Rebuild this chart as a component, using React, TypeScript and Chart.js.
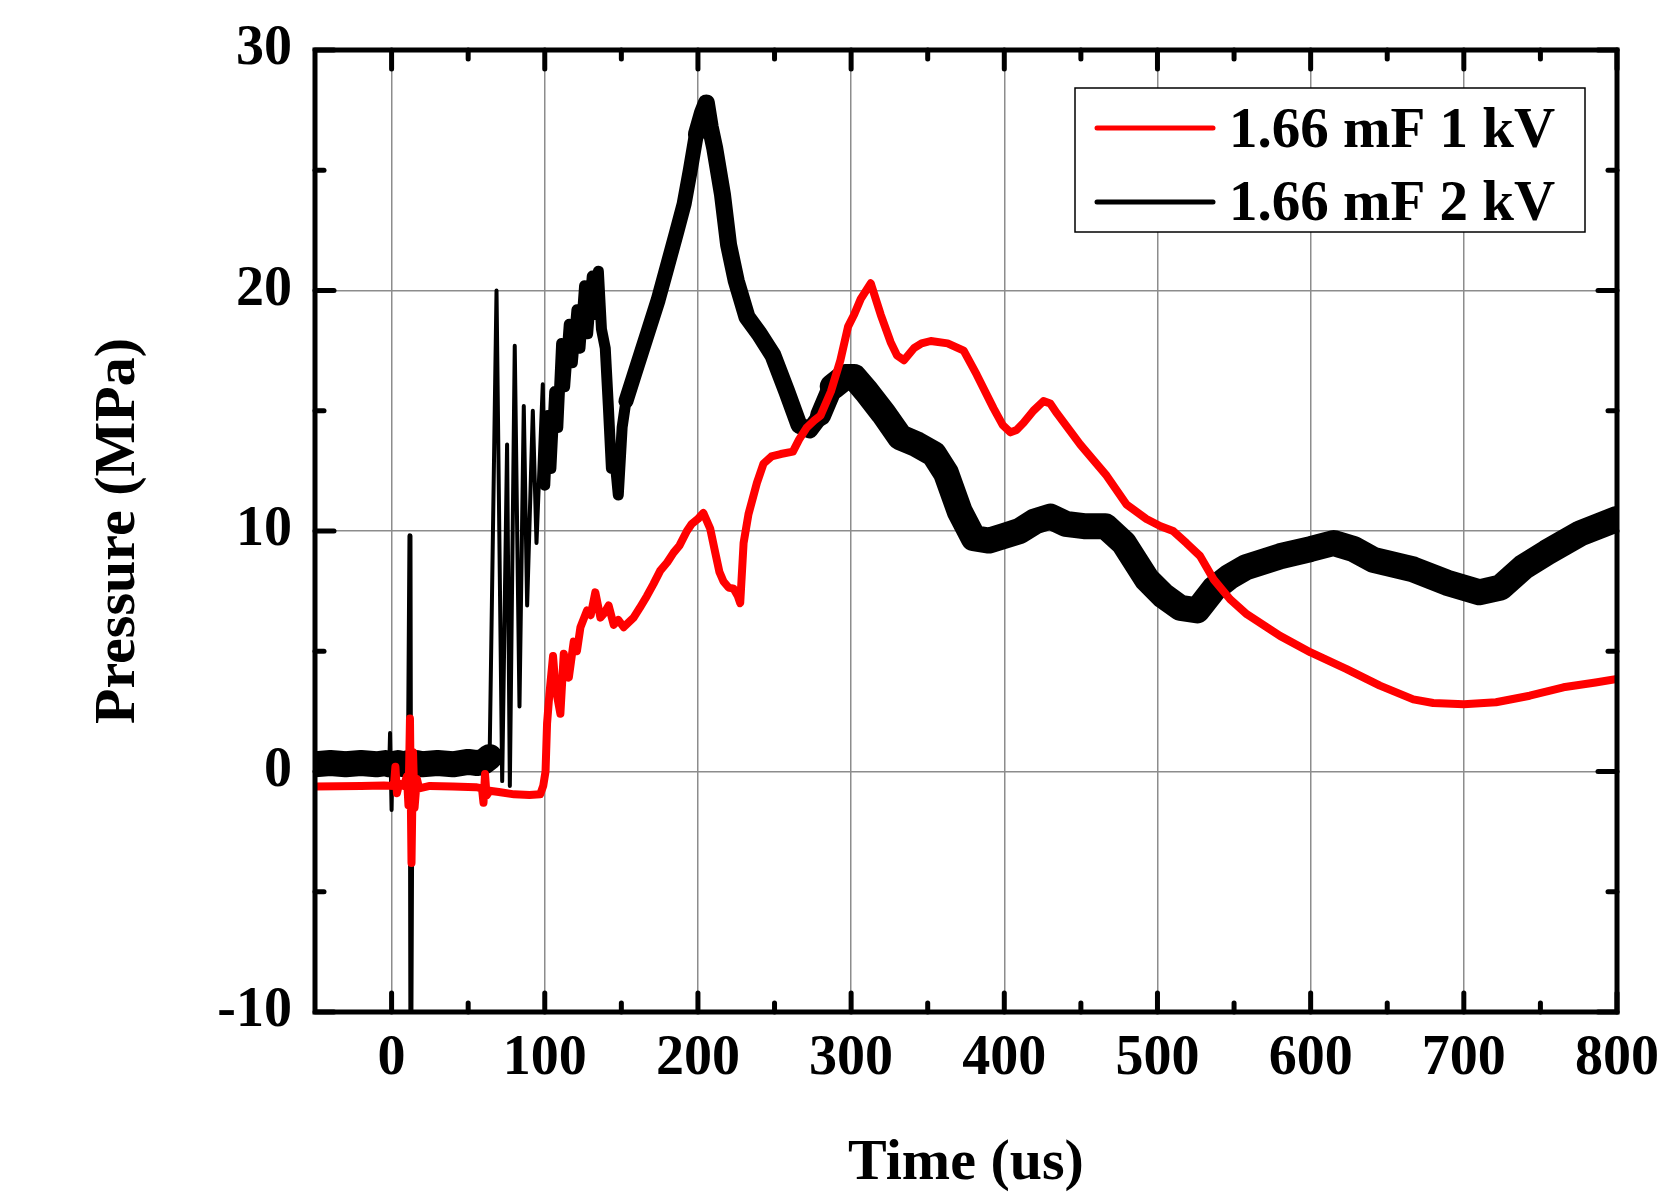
import React, { useEffect, useRef } from "react";
import { Chart, registerables } from "chart.js";

Chart.register(...registerables);

const FONT = "'Liberation Serif', 'Times New Roman', Times, serif";

const X_TICKS = [0, 100, 200, 300, 400, 500, 600, 700, 800];
const Y_TICKS = [-10, 0, 10, 20, 30];
const X_MIN = -50;
const X_MAX = 800;
const Y_MIN = -10;
const Y_MAX = 30;
const X_TITLE = "Time (us)";
const Y_TITLE = "Pressure (MPa)";
const SERIES_NAMES = ["1.66 mF 1 kV", "1.66 mF 2 kV"];
const SERIES_COLORS = ["#ff0000", "#000000"];

// 1.66 mF 1 kV  (time us, pressure MPa)
const SERIES_1KV: [number, number][] = [
  [-50, -0.62], [-20, -0.6], [-5, -0.58], [1.5, -0.6], [2.5, 0.2], [3.5, -0.9], [5, -0.5],
  [8, -0.6], [10, -0.2], [11, -1.4], [12, 2.2], [13, -3.8], [14, 0.8], [15, -1.5], [16.5, -0.3],
  [18, -0.7], [25, -0.6], [40, -0.62], [55, -0.65], [59, -0.7], [60, -1.3], [61, -0.1], [62, -1.0],
  [64, -0.8], [70, -0.85], [80, -0.95], [90, -0.98], [97, -0.95], [99, -0.6], [100.5, 0.0],
  [101.5, 2.0], [103, 3.2], [105.4, 4.8], [107, 3.5], [110.2, 2.4], [112.4, 4.9], [115.7, 3.9],
  [118.9, 5.4], [121, 5.0], [123.3, 6.0], [127.6, 6.7], [130, 6.5], [133, 7.45], [136.3, 6.4],
  [139, 6.6], [141.7, 6.9], [145, 6.1], [148, 6.3], [151.5, 6.0], [158, 6.4], [162, 6.8],
  [166.7, 7.3], [171, 7.8], [175.4, 8.35], [180, 8.7], [184.1, 9.1], [188, 9.4], [192.8, 10.0],
  [196, 10.3], [200, 10.5], [203.5, 10.75], [208, 10.1], [211.3, 9.1], [214, 8.3], [216.7, 7.9],
  [220, 7.65], [223.3, 7.6], [226, 7.3], [227.6, 7.0], [229.8, 9.5], [233, 10.7], [238.5, 12.0],
  [242.8, 12.8], [248, 13.1], [254, 13.2], [262, 13.3], [266, 13.8], [271, 14.3], [276, 14.6],
  [280, 14.8], [286.8, 15.8], [293, 17.1], [298, 18.5], [302, 19.0], [306.3, 19.65], [312.8, 20.3],
  [319.3, 19.0], [325.8, 17.85], [330, 17.3], [334.5, 17.1], [341, 17.6], [346, 17.8], [352, 17.9],
  [363, 17.8], [373.5, 17.5], [382, 16.5], [393, 15.1], [399, 14.4], [404, 14.1], [408, 14.2],
  [412.6, 14.5], [419, 15.0], [425.6, 15.4], [430, 15.3], [434.3, 14.9], [449.5, 13.6],
  [466.8, 12.3], [479.8, 11.1], [492.8, 10.5], [502, 10.2], [510.2, 10.0], [518.9, 9.5],
  [527.8, 8.96], [536.5, 8.0], [547.4, 7.16], [558.3, 6.54], [580, 5.64], [600, 4.95],
  [623.5, 4.26], [645.2, 3.57], [667, 3.0], [680, 2.85], [700, 2.8], [721, 2.88], [743, 3.15],
  [765, 3.5], [786, 3.7], [800, 3.85],
];

// 1.66 mF 2 kV  (time us, pressure MPa)
const SERIES_2KV: [number, number][] = [
  [-50, 0.3], [-40, 0.35], [-30, 0.3], [-20, 0.35], [-10, 0.3], [-4, 0.35], [-1.5, 0.3],
  [-1, 1.6], [0, -1.6], [0.5, 0.3], [4, 0.35], [8, 0.3], [11, 0.35], [12, 9.8], [12.6, -10.5],
  [13.3, 0.3], [16, 0.35], [20, 0.3], [30, 0.35], [40, 0.3], [50, 0.4], [56, 0.35], [60, 0.4],
  [64, 0.6], [68.5, 20.0], [72.2, -0.4], [75.4, 13.6], [77.2, -0.6], [80.4, 17.7], [83.5, 2.7],
  [86.3, 15.2], [88.5, 6.9], [92.2, 15.0], [94.6, 9.5], [98.7, 16.1], [100, 11.9],
  [102, 14.8], [104, 12.6], [106.5, 15.8], [108.5, 14.3], [111, 17.8], [113, 16.0], [116, 18.6],
  [118, 17.0], [121, 19.2], [123, 17.6], [126, 20.2], [128, 18.2], [131, 20.6], [133, 19.0],
  [135, 20.8], [137, 18.4], [139.5, 17.6], [141.5, 15.2], [143.5, 12.6], [145.5, 13.2],
  [148, 11.5], [150.5, 14.3], [153, 15.4], [158, 16.4], [163, 17.4], [168, 18.4], [174, 19.6],
  [180, 21.0], [186, 22.4], [191, 23.6], [195, 25.0], [199, 26.5], [203, 27.4], [205.5, 27.8],
  [208, 26.8], [211, 25.9], [216, 24.0], [220, 21.9], [225, 20.4], [232, 18.9], [240, 18.2],
  [249, 17.3], [258, 15.8], [266, 14.4], [273, 14.2], [280, 14.8], [288, 16.0], [296, 16.4],
  [302, 16.4], [310, 15.8], [321, 14.9], [332, 13.9], [343, 13.6], [354, 13.2], [362, 12.4],
  [371, 10.8], [380, 9.7], [390, 9.6], [400, 9.8], [410, 10.0], [420, 10.4], [430, 10.6],
  [440, 10.3], [452, 10.2], [466, 10.2], [478, 9.5], [493, 8.0], [504, 7.3], [515, 6.8],
  [526, 6.7], [537, 7.6], [547, 8.1], [558, 8.5], [580, 8.95], [600, 9.25], [615, 9.5],
  [628, 9.25], [641, 8.8], [667, 8.4], [689, 7.85], [710, 7.45], [724, 7.65], [739, 8.5],
  [754, 9.1], [776, 9.9], [800, 10.5],
];

// line width of the 2 kV trace: thin where it is a single spike, thick where it is a noise band
function band2kvWidth(ctx: any): number {
  const m = (ctx.p0.parsed.x + ctx.p1.parsed.x) / 2;
  if (m > -1.6 && m < 0.6) return 4;
  if (m > 11 && m < 13.5) return 5;
  if (m > 62.5 && m < 101) return 4;
  if (m < 101) return 26;
  if (m < 152) return 11;
  if (m < 200) return 15;
  if (m < 277) return 17;
  if (m < 292) return 21;
  return 26;
}

const framePlugin = {
  id: "frameTicks",
  afterDraw(chart: any) {
    const { ctx, chartArea: a, scales } = chart;
    const xs = scales.x;
    const ys = scales.y;
    const major = 19;
    const minor = 9;
    ctx.save();
    ctx.strokeStyle = "#000";
    ctx.lineWidth = 5;
    ctx.lineCap = "round";
    const seg = (x1: number, y1: number, x2: number, y2: number) => {
      ctx.beginPath();
      ctx.moveTo(x1, y1);
      ctx.lineTo(x2, y2);
      ctx.stroke();
    };
    const xMinor: number[] = [];
    for (let i = 0; i < X_TICKS.length - 1; i++) xMinor.push((X_TICKS[i] + X_TICKS[i + 1]) / 2);
    const yMinor: number[] = [];
    for (let i = 0; i < Y_TICKS.length - 1; i++) yMinor.push((Y_TICKS[i] + Y_TICKS[i + 1]) / 2);
    X_TICKS.forEach((v) => {
      const x = xs.getPixelForValue(v);
      seg(x, a.bottom, x, a.bottom - major);
      seg(x, a.top, x, a.top + major);
    });
    xMinor.forEach((v) => {
      const x = xs.getPixelForValue(v);
      seg(x, a.bottom, x, a.bottom - minor);
      seg(x, a.top, x, a.top + minor);
    });
    Y_TICKS.forEach((v) => {
      const y = ys.getPixelForValue(v);
      seg(a.left, y, a.left + major, y);
      seg(a.right, y, a.right - major, y);
    });
    yMinor.forEach((v) => {
      const y = ys.getPixelForValue(v);
      seg(a.left, y, a.left + minor, y);
      seg(a.right, y, a.right - minor, y);
    });
    ctx.lineCap = "butt";
    ctx.lineJoin = "miter";
    ctx.strokeRect(a.left, a.top, a.right - a.left, a.bottom - a.top);

    // legend box
    const bw = 510;
    const bh = 144;
    const bx = a.right - 542;
    const by = a.top + 38;
    ctx.fillStyle = "#fff";
    ctx.fillRect(bx, by, bw, bh);
    ctx.lineWidth = 1.5;
    ctx.strokeRect(bx, by, bw, bh);
    const rows = [
      { line: by + 40, text: by + 59 },
      { line: by + 114, text: by + 132 },
    ];
    ctx.font = `bold 57px ${FONT}`;
    ctx.textAlign = "left";
    ctx.textBaseline = "alphabetic";
    SERIES_NAMES.forEach((name, i) => {
      ctx.strokeStyle = SERIES_COLORS[i];
      ctx.lineWidth = 5;
      ctx.lineCap = "round";
      seg(bx + 22, rows[i].line, bx + 138, rows[i].line);
      ctx.fillStyle = "#000";
      ctx.fillText(name, bx + 154, rows[i].text);
    });
    ctx.restore();
  },
};

export default function App() {
  const ref = useRef<HTMLCanvasElement | null>(null);

  useEffect(() => {
    if (!ref.current) return;
    const tickFont = { family: FONT, size: 56, weight: "bold" as const };
    const titleFont = { family: FONT, size: 58, weight: "bold" as const };
    const chart = new Chart(ref.current, {
      type: "line",
      data: {
        datasets: [
          {
            label: SERIES_NAMES[0],
            data: SERIES_1KV.map(([x, y]) => ({ x, y })),
            borderColor: SERIES_COLORS[0],
            borderWidth: 8,
            pointRadius: 0,
            tension: 0,
            fill: false,
            clip: 0,
            borderJoinStyle: "round",
            borderCapStyle: "round",
          },
          {
            label: SERIES_NAMES[1],
            data: SERIES_2KV.map(([x, y]) => ({ x, y })),
            borderColor: SERIES_COLORS[1],
            borderWidth: 20,
            pointRadius: 0,
            tension: 0,
            fill: false,
            clip: 0,
            borderJoinStyle: "round",
            borderCapStyle: "round",
            segment: { borderWidth: band2kvWidth },
          },
        ],
      },
      options: {
        responsive: false,
        devicePixelRatio: 1,
        animation: false,
        layout: { padding: { left: 0, top: 50, right: 43, bottom: 0 } },
        plugins: { legend: { display: false }, tooltip: { enabled: false } },
        scales: {
          x: {
            type: "linear",
            min: X_MIN,
            max: X_MAX,
            afterBuildTicks: (s: any) => {
              s.ticks = X_TICKS.map((v) => ({ value: v }));
            },
            afterFit: (s: any) => {
              s.height = 185;
              s.paddingLeft = 0;
              s.paddingRight = 0;
              s.paddingTop = 0;
              s.paddingBottom = 0;
            },
            grid: { color: "#8c8c8c", lineWidth: 1.5, drawTicks: false },
            border: { display: false },
            ticks: {
              autoSkip: false,
              maxRotation: 0,
              padding: 14,
              color: "#000",
              font: tickFont,
              callback: (v: any) => String(v),
            },
            title: {
              display: true,
              text: X_TITLE,
              color: "#000",
              font: { ...titleFont, lineHeight: 1.0 },
              padding: { top: 0, bottom: 4 },
            },
          },
          y: {
            type: "linear",
            min: Y_MIN,
            max: Y_MAX,
            afterBuildTicks: (s: any) => {
              s.ticks = Y_TICKS.map((v) => ({ value: v }));
            },
            afterFit: (s: any) => {
              s.width = 315;
              s.paddingLeft = 0;
              s.paddingRight = 0;
              s.paddingTop = 0;
              s.paddingBottom = 0;
            },
            grid: { color: "#8c8c8c", lineWidth: 1.5, drawTicks: false },
            border: { display: false },
            ticks: {
              padding: 23,
              color: "#000",
              font: tickFont,
              callback: (v: any) => String(v),
            },
            title: { display: true, text: Y_TITLE, color: "#000", font: titleFont, padding: { top: 84, bottom: 0 } },
          },
        },
      },
      plugins: [framePlugin],
    });
    return () => chart.destroy();
  }, []);

  return (
    <div style={{ position: "absolute", left: 0, top: 0, width: 1660, height: 1197, background: "#fff" }}>
      <canvas ref={ref} width={1660} height={1197} style={{ display: "block" }} />
    </div>
  );
}
